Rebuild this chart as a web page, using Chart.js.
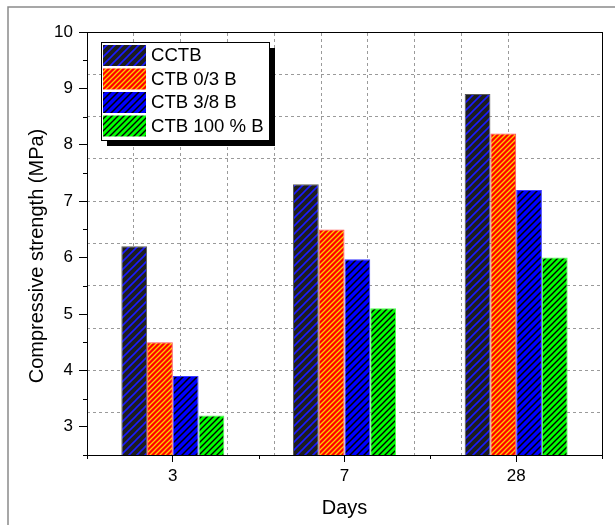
<!DOCTYPE html>
<html><head><meta charset="utf-8">
<script src="https://cdn.jsdelivr.net/npm/chart.js@4"></script>
<style>html,body{margin:0;padding:0;background:#fff}</style>
</head><body>
<canvas id="c" width="615" height="525"></canvas>
<script>
const categories = ['3', '7', '28'];
const seriesNames = ['CCTB', 'CTB 0/3 B', 'CTB 3/8 B', 'CTB 100 % B'];
const cctb   = [6.2, 7.3, 8.9];
const ctb03  = [4.5, 6.5, 8.2];
const ctb38  = [3.9, 5.97, 7.2];
const ctb100 = [3.2, 5.1, 6.0];
const yTickLabels = [3, 4, 5, 6, 7, 8, 9, 10];
const xTitle = 'Days';
const yTitle = 'Compressive strength (MPa)';

const FONT = "'Liberation Sans', Arial, sans-serif";

function hatch(bg, line, s, lw) {
  const c = document.createElement('canvas');
  c.width = s; c.height = s;
  const g = c.getContext('2d');
  g.fillStyle = bg; g.fillRect(0, 0, s, s);
  g.strokeStyle = line; g.lineWidth = lw;
  g.beginPath();
  g.moveTo(-2, 2); g.lineTo(2, -2);
  g.moveTo(0, s); g.lineTo(s, 0);
  g.moveTo(s - 2, s + 2); g.lineTo(s + 2, s - 2);
  g.stroke();
  return g.createPattern(c, 'repeat');
}
const ctx = document.getElementById('c').getContext('2d');
const fills = [
  hatch('#1e1e1e', '#1a1aff', 8, 1.6),
  hatch('#ff0000', '#ffcc00', 5, 1.3),
  hatch('#0000ff', '#000000', 7, 1.5),
  hatch('#00ff00', '#000000', 6, 1.4)
];
const edges = ['#5a5a5a', '#ff5050', '#3c3cff', '#50ff50'];
const values = [cctb, ctb03, ctb38, ctb100];

const framePlugin = {
  id: 'frame',
  beforeDraw(chart) {
    const c = chart.ctx;
    c.save();
    c.fillStyle = '#fff';
    c.fillRect(0, 0, chart.width, chart.height);
    c.strokeStyle = '#8a8a8a'; c.lineWidth = 1.5;
    c.beginPath();
    c.moveTo(8, 525); c.lineTo(8, 7); c.lineTo(615, 7);
    c.stroke();
    c.restore();
  },
  afterDraw(chart) {
    const c = chart.ctx;
    const xs = chart.scales.x, ys = chart.scales.y;
    const a = chart.chartArea;
    c.save();
    c.strokeStyle = '#000'; c.lineWidth = 1;
    c.beginPath();
    for (let v = 2.5; v < 10; v += 1) {
      const py = Math.round(ys.getPixelForValue(v)) + 0.5;
      c.moveTo(a.left - 4, py); c.lineTo(a.left, py);
    }
    for (let i = 0; i <= categories.length; i++) {
      const px = Math.round(xs.getPixelForValue(i - 0.5)) + 0.5;
      c.moveTo(px, a.bottom); c.lineTo(px, a.bottom + 4);
    }
    c.stroke();
    c.fillStyle = '#000';
    c.font = '20px ' + FONT;
    c.textAlign = 'center'; c.textBaseline = 'middle';
    c.translate(37, 256);
    c.rotate(-Math.PI / 2);
    c.fillText(yTitle, 0, 0);
    c.restore();

    c.save();
    const bx = 101, by = 42, bw = 168, bh = 98;
    c.fillStyle = '#000';
    c.fillRect(bx + 6, by + 6, bw, bh);
    c.fillStyle = '#fff';
    c.fillRect(bx, by, bw, bh);
    c.strokeStyle = '#000'; c.lineWidth = 1;
    c.strokeRect(bx + 0.5, by + 0.5, bw, bh);
    c.font = '18.6px ' + FONT;
    c.textAlign = 'left'; c.textBaseline = 'middle';
    chart.data.datasets.forEach((ds, i) => {
      const ry = by + 3 + i * 23.5;
      c.fillStyle = ds.backgroundColor;
      c.fillRect(bx + 2, ry, 43, 21);
      c.fillStyle = '#000';
      c.fillText(ds.label, bx + 50, ry + 11);
    });
    c.restore();
  }
};

new Chart(ctx, {
  type: 'bar',
  data: {
    labels: categories,
    datasets: seriesNames.map((n, i) => ({
      label: n,
      data: values[i],
      backgroundColor: fills[i],
      borderColor: edges[i],
      borderWidth: 1,
      categoryPercentage: 0.6,
      barPercentage: 1.0,
      xAxisID: 'x',
      yAxisID: 'y'
    }))
  },
  options: {
    responsive: false,
    animation: false,
    devicePixelRatio: 1,
    layout: { padding: { top: 32, right: 13, left: 0, bottom: 0 } },
    plugins: { legend: { display: false }, tooltip: { enabled: false } },
    scales: {
      x: {
        type: 'category', position: 'bottom', offset: true,
        grid: { display: true, drawOnChartArea: false, offset: false, tickLength: 7, tickColor: '#000', tickWidth: 1 },
        border: { display: true, color: '#000', width: 1 },
        ticks: { color: '#000', font: { family: FONT, size: 17 }, padding: 4, maxRotation: 0, autoSkip: false },
        title: { display: true, text: xTitle, color: '#000', font: { family: FONT, size: 20 }, padding: { top: 0, bottom: 5 } },
        afterFit(s) { s.height = 70; }
      },
      x2: {
        type: 'linear', position: 'top', min: 0, max: 10,
        ticks: { display: false, stepSize: 1 },
        grid: { drawTicks: false, lineWidth: 1,
          color: c => (c.index === 0 || c.index === 10) ? 'rgba(0,0,0,0)' : '#9a9a9a' },
        border: { display: true, color: '#000', width: 1, dash: [3, 3] },
        afterFit(s) { s.height = 0; }
      },
      y: {
        type: 'linear', position: 'left', min: 2.5, max: 10,
        ticks: { stepSize: 1, color: '#000', font: { family: FONT, size: 17 }, padding: 6,
          callback: v => yTickLabels.includes(v) ? String(v) : '' },
        grid: { drawOnChartArea: false, tickLength: 8, tickWidth: 1,
          tickColor: c => (c.tick && yTickLabels.includes(c.tick.value)) ? '#000' : 'rgba(0,0,0,0)' },
        border: { display: true, color: '#000', width: 1 },
        afterFit(s) { s.width = 87; }
      },
      y2: {
        type: 'linear', position: 'right', min: 2.5, max: 10,
        ticks: { display: false, stepSize: 0.75 },
        grid: { drawTicks: false, lineWidth: 1,
          color: c => (c.index === 0 || c.index === 10) ? 'rgba(0,0,0,0)' : '#9a9a9a' },
        border: { display: true, color: '#000', width: 1, dash: [3, 3] },
        afterFit(s) { s.width = 0; }
      }
    }
  },
  plugins: [framePlugin]
});
</script>
</body></html>
